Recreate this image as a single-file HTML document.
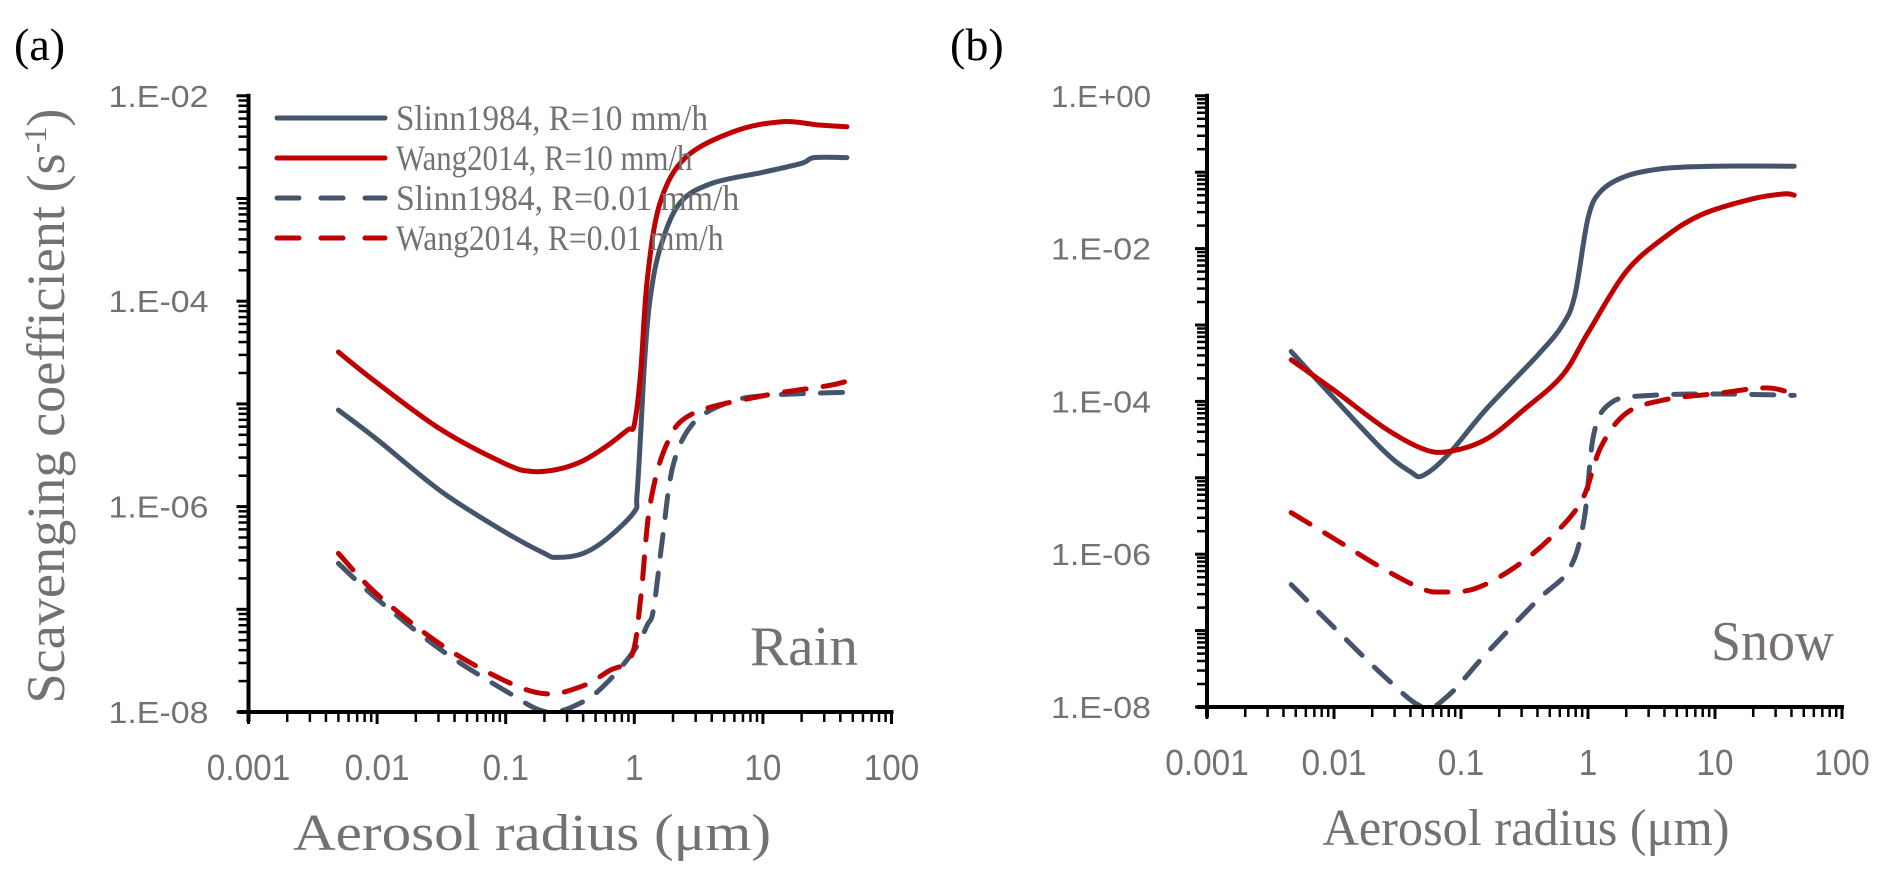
<!DOCTYPE html>
<html><head><meta charset="utf-8"><style>
body{margin:0;background:#fff}
svg{display:block}
</style></head><body>
<svg id="chart" width="1892" height="880" xmlns="http://www.w3.org/2000/svg"></svg>
<script>
// ---- data (x: aerosol radius µm, y: scavenging coefficient s^-1) ----
const rainSlinn10X=[0.005,0.01,0.0316,0.1,0.2,0.25,0.4,0.63,1.0,1.047,1.12,1.2,1.32,1.58,2.24,3.98,10,20,25,45];
const rainSlinn10Y=[8.7e-6,4.5e-6,1.4e-6,5.6e-7,3.5e-7,3.2e-7,3.5e-7,5e-7,8.9e-7,1.26e-6,5e-6,2.5e-5,1e-4,3.2e-4,8.9e-4,1.4e-3,1.8e-3,2.2e-3,2.5e-3,2.5e-3];
const rainWang10X=[0.005,0.01,0.0316,0.1,0.158,0.25,0.4,0.63,0.89,1.0,1.12,1.26,1.58,2.5,6,14,27,45];
const rainWang10Y=[3.2e-5,1.6e-5,5.6e-6,2.6e-6,2.2e-6,2.3e-6,2.8e-6,4e-6,5.6e-6,6.3e-6,2e-5,1.6e-4,8.9e-4,2.5e-3,4.5e-3,5.6e-3,5.2e-3,5e-3];
const rainSlinn001X=[0.005,0.01,0.0316,0.1,0.21,0.4,0.63,1.0,1.26,1.41,1.66,2.0,2.82,5,10,45];
const rainSlinn001Y=[2.8e-7,1.26e-7,4e-8,1.6e-8,1e-8,1.26e-8,2e-8,4e-8,7e-8,1e-7,5e-7,2.5e-6,6.3e-6,1e-5,1.2e-5,1.3e-5];
const rainWang001X=[0.005,0.01,0.0316,0.1,0.21,0.4,0.63,0.95,1.12,1.32,1.78,2.82,10,31.6,45];
const rainWang001Y=[3.5e-7,1.4e-7,4.5e-8,2e-8,1.5e-8,1.8e-8,2.5e-8,3.5e-8,1.26e-7,1e-6,4e-6,8e-6,1.2e-5,1.5e-5,1.66e-5];

const snowSlinn10X=[0.0046,0.01,0.025,0.04,0.05,0.079,0.158,0.4,0.63,0.79,1.0,1.26,2.0,4,10,42];
const snowSlinn10Y=[4.5e-4,1.1e-4,2.2e-5,1.2e-5,1.07e-5,2e-5,7.9e-5,4e-4,1e-3,2.5e-3,2.5e-2,5.6e-2,8.9e-2,0.112,0.12,0.12];
const snowWang10X=[0.0046,0.01,0.025,0.05,0.079,0.158,0.316,0.63,1.0,2.0,4,7.9,20,35,42];
const snowWang10Y=[3.5e-4,1.4e-4,4.5e-5,2.4e-5,2.2e-5,3.2e-5,7.9e-5,2.2e-4,7.9e-4,5e-3,1.4e-2,2.8e-2,4.5e-2,5.2e-2,5e-2];
const snowSlinn001X=[0.0046,0.01,0.025,0.05,0.079,0.158,0.4,0.71,0.93,1.12,1.58,3.16,10,42];
const snowSlinn001Y=[4e-7,1.1e-7,2.5e-8,1e-8,1.4e-8,5e-8,2.5e-7,6.3e-7,2.8e-6,4e-5,1e-4,1.2e-4,1.25e-4,1.2e-4];
const snowWang001X=[0.0046,0.01,0.025,0.05,0.071,0.126,0.25,0.5,0.89,1.26,2.0,4,10,25,42];
const snowWang001Y=[3.5e-6,1.6e-6,6.3e-7,3.5e-7,3.2e-7,3.5e-7,6.3e-7,1.6e-6,5e-6,2.5e-5,7e-5,1.05e-4,1.26e-4,1.5e-4,1.26e-4];

const xTickLabels=["0.001","0.01","0.1","1","10","100"];
const rainYTickLabels=["1.E-08","1.E-06","1.E-04","1.E-02"];
const snowYTickLabels=["1.E-08","1.E-06","1.E-04","1.E-02","1.E+00"];
const legendLabels=["Slinn1984, R=10 mm/h","Wang2014, R=10 mm/h","Slinn1984, R=0.01 mm/h","Wang2014, R=0.01 mm/h"];

const NS="http://www.w3.org/2000/svg";
const svg=document.getElementById('chart');
const GRAY="#44546A",RED="#C00000",TXT="#767171";
function mk(tag,attrs,parent){const e=document.createElementNS(NS,tag);for(const k in attrs)e.setAttribute(k,attrs[k]);(parent||svg).appendChild(e);return e;}

function makeAxes(cfg){
  const xs=v=>cfg.x0+(Math.log10(v)+3)*cfg.xd;
  const ys=v=>cfg.yBot-(Math.log10(v)-cfg.yMinExp)*cfg.yd;
  return {xs,ys};
}
function smoothPath(pts){
  let d="M"+pts[0][0].toFixed(1)+","+pts[0][1].toFixed(1);
  for(let i=0;i<pts.length-1;i++){
    const p0=pts[i-1]||pts[i],p1=pts[i],p2=pts[i+1],p3=pts[i+2]||p2;
    const c1=[p1[0]+(p2[0]-p0[0])/6,p1[1]+(p2[1]-p0[1])/6];
    const c2=[p2[0]-(p3[0]-p1[0])/6,p2[1]-(p3[1]-p1[1])/6];
    d+=" C"+c1[0].toFixed(1)+","+c1[1].toFixed(1)+" "+c2[0].toFixed(1)+","+c2[1].toFixed(1)+" "+p2[0].toFixed(1)+","+p2[1].toFixed(1);
  }
  return d;
}
function drawPanel(cfg){
  const g=mk('g',{});
  
  
  const {xs,ys}=makeAxes(cfg);
  const xEnd=xs(100), yTop=ys(Math.pow(10,cfg.yMaxExp));
  cfg.series.forEach(s=>{
    const pts=s.x.map((v,i)=>[xs(v),ys(s.y[i])]);
    const p=mk('path',{d:smoothPath(pts),fill:'none',stroke:s.color,'stroke-width':5,'stroke-linecap':'round','stroke-linejoin':'round'},g);
    if(s.dash)p.setAttribute('stroke-dasharray','22 17');
    
    
  });
  const ya=mk('line',{x1:cfg.x0,y1:yTop-2,x2:cfg.x0,y2:cfg.yBot+10,stroke:'#000','stroke-width':4},g);
  
  
  for(let e=cfg.yMinExp;e<=cfg.yMaxExp;e++){
    mk('line',{x1:cfg.x0-12,y1:ys(Math.pow(10,e)),x2:cfg.x0,y2:ys(Math.pow(10,e)),stroke:'#000','stroke-width':3},g);
    if(e<cfg.yMaxExp)for(let m=2;m<=9;m++){const y=ys(m*Math.pow(10,e));mk('line',{x1:cfg.x0-10,y1:y,x2:cfg.x0,y2:y,stroke:'#000','stroke-width':2.5},g);}
  }
  cfg.yLabels.forEach((lab,i)=>{
    const e=cfg.yMinExp+i*cfg.yLabelStep;
    const t=mk('text',{x:cfg.x0-cfg.yLabOff,y:ys(Math.pow(10,e))+11,'text-anchor':'end','font-family':'Liberation Sans, sans-serif','font-size':31,fill:TXT,textLength:100,lengthAdjust:'spacingAndGlyphs'},g);
    t.textContent=lab;
    
    
  });
  const xa=mk('line',{x1:cfg.x0-10,y1:cfg.yBot,x2:xEnd+2,y2:cfg.yBot,stroke:'#000','stroke-width':4},g);
  
  
  for(let e=-3;e<=2;e++){
    const x=xs(Math.pow(10,e));
    mk('line',{x1:x,y1:cfg.yBot,x2:x,y2:cfg.yBot+12,stroke:'#000','stroke-width':3},g);
    if(e<2)for(let m=2;m<=9;m++){const xx=xs(m*Math.pow(10,e));mk('line',{x1:xx,y1:cfg.yBot,x2:xx,y2:cfg.yBot+10,stroke:'#000','stroke-width':2.5},g);}
  }
  xTickLabels.forEach((lab,i)=>{
    const t=mk('text',{x:xs(Math.pow(10,i-3)),y:cfg.yBot+68,'text-anchor':'middle','font-family':'Liberation Sans, sans-serif','font-size':36,fill:TXT,textLength:lab.length*18.5-(lab.indexOf('.')>=0?9:0),lengthAdjust:'spacingAndGlyphs'},g);
    t.textContent=lab;
    
    
  });
  const xt=mk('text',{x:cfg.xTitleX,y:cfg.yBot+138,'text-anchor':'middle','font-family':'Liberation Serif, serif','font-size':52,fill:TXT,textLength:cfg.xTitleW,lengthAdjust:'spacingAndGlyphs'},g);
  xt.textContent="Aerosol radius (μm)";
  
  
  const pl=mk('text',{x:cfg.panelLabelX,y:60,'font-family':'Liberation Serif, serif','font-size':46,fill:'#000'},g);
  pl.textContent=cfg.panelLabel;
  
  
  const cl=mk('text',{x:cfg.condX,y:cfg.yBot-47,'font-family':'Liberation Serif, serif','font-size':56,fill:TXT,textLength:cfg.condW,lengthAdjust:'spacingAndGlyphs'},g);
  cl.textContent=cfg.cond;
  
  
}

drawPanel({name:'rain-panel',x0:248.5,xd:128.6,yBot:712,yd:102.7,yMinExp:-8,yMaxExp:-2,yLabels:rainYTickLabels,yLabelStep:2,yLabOff:40,
  xTitleX:532,xTitleW:478,panelLabel:'(a)',panelLabelX:14,cond:'Rain',condX:750,condW:108,
  series:[
    {name:'rain-slinn-10',x:rainSlinn10X,y:rainSlinn10Y,color:GRAY},
    {name:'rain-wang-10',x:rainWang10X,y:rainWang10Y,color:RED},
    {name:'rain-slinn-001',x:rainSlinn001X,y:rainSlinn001Y,color:GRAY,dash:true},
    {name:'rain-wang-001',x:rainWang001X,y:rainWang001Y,color:RED,dash:true}
  ]});
drawPanel({name:'snow-panel',x0:1207,xd:127,yBot:707,yd:76.4,yMinExp:-8,yMaxExp:0,yLabels:snowYTickLabels,yLabelStep:2,yLabOff:56,
  xTitleX:1526,xTitleW:407,panelLabel:'(b)',panelLabelX:950,cond:'Snow',condX:1711,condW:123,
  series:[
    {name:'snow-slinn-10',x:snowSlinn10X,y:snowSlinn10Y,color:GRAY},
    {name:'snow-wang-10',x:snowWang10X,y:snowWang10Y,color:RED},
    {name:'snow-slinn-001',x:snowSlinn001X,y:snowSlinn001Y,color:GRAY,dash:true},
    {name:'snow-wang-001',x:snowWang001X,y:snowWang001Y,color:RED,dash:true}
  ]});

const yt=mk('text',{transform:'translate(64,406) rotate(-90)','text-anchor':'middle','font-family':'Liberation Serif, serif','font-size':54,fill:TXT,textLength:595,lengthAdjust:'spacingAndGlyphs'});


yt.innerHTML='Scavenging coefficient (s<tspan baseline-shift="super" font-size="32">-1</tspan>)';

const legendColors=[GRAY,RED,GRAY,RED];
const legendDash=[false,false,true,true];
legendLabels.forEach((lab,i)=>{
  const y=118+i*40;
  const ln=mk('line',{x1:277,y1:y,x2:385,y2:y,stroke:legendColors[i],'stroke-width':5,'stroke-linecap':'round'});
  if(legendDash[i])ln.setAttribute('stroke-dasharray','22 22');
  
  
  const t=mk('text',{x:396,y:y+12,'font-family':'Liberation Serif, serif','font-size':36,fill:TXT,textLength:lab.length*15.6,lengthAdjust:'spacingAndGlyphs'});
  t.textContent=lab;
  
  
});
</script>
</body></html>
